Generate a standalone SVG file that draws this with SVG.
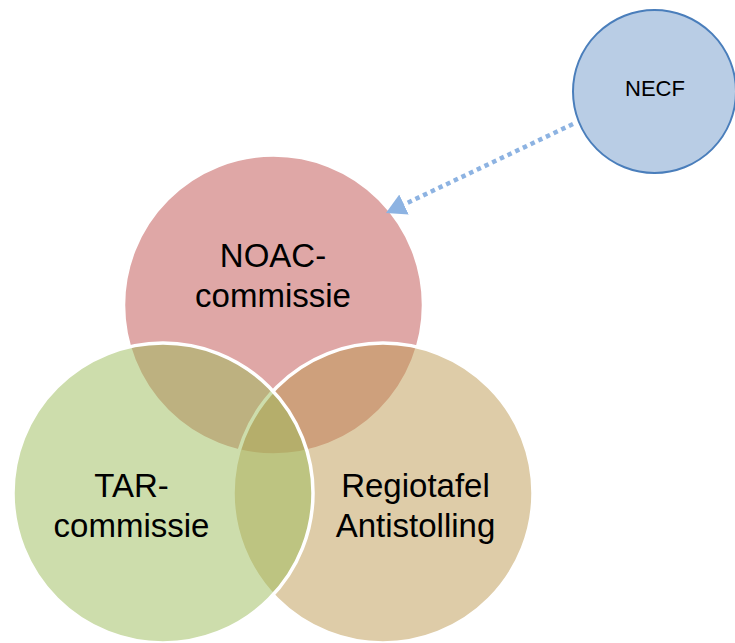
<svg xmlns="http://www.w3.org/2000/svg" width="735" height="643" viewBox="0 0 735 643">
<style>
.venn{stroke:#ffffff;stroke-width:3.5;fill-opacity:0.5}
.lbl{font-family:"Liberation Sans",Arial,sans-serif;font-size:33px;fill:#000000;text-anchor:middle}
.small{font-family:"Liberation Sans",Arial,sans-serif;font-size:22px;fill:#000000;text-anchor:middle}
</style>
<defs>
<marker id="arrowHead" markerUnits="userSpaceOnUse" viewBox="0 -11 20 22" refX="0" refY="0" markerWidth="20" markerHeight="22" orient="auto">
<path d="M0,-11 L20,0 L0,11 Z" fill="#8DB3E2"/>
</marker>
</defs>
<rect x="0" y="0" width="735" height="643" fill="#ffffff"/>
<g id="noac">
<circle class="venn" cx="273.5" cy="305" r="150" fill="#C0504D"/>
</g>
<g id="regiotafel">
<circle class="venn" cx="383" cy="493" r="150" fill="#BD9951"/>
</g>
<g id="tar">
<circle class="venn" cx="163" cy="493" r="150" fill="#9BBB59"/>
</g>
<g id="labels-venn">
<text class="lbl" x="273" y="267">NOAC-</text>
<text class="lbl" x="273" y="307">commissie</text>
<text class="lbl" x="131.5" y="497">TAR-</text>
<text class="lbl" x="131.5" y="537">commissie</text>
<text class="lbl" x="415.5" y="497">Regiotafel</text>
<text class="lbl" x="415.5" y="537">Antistolling</text>
</g>
<g id="necf">
<circle cx="654.5" cy="91.5" r="81.5" fill="#B9CDE5" stroke="#4A7EBB" stroke-width="2"/>
<text class="small" x="655" y="96">NECF</text>
</g>
<g id="connectors">
<path d="M573,124 L404,204.5" fill="none" stroke="#8DB3E2" stroke-width="4.5" stroke-dasharray="4.5 4" marker-end="url(#arrowHead)"/>
</g>
</svg>
